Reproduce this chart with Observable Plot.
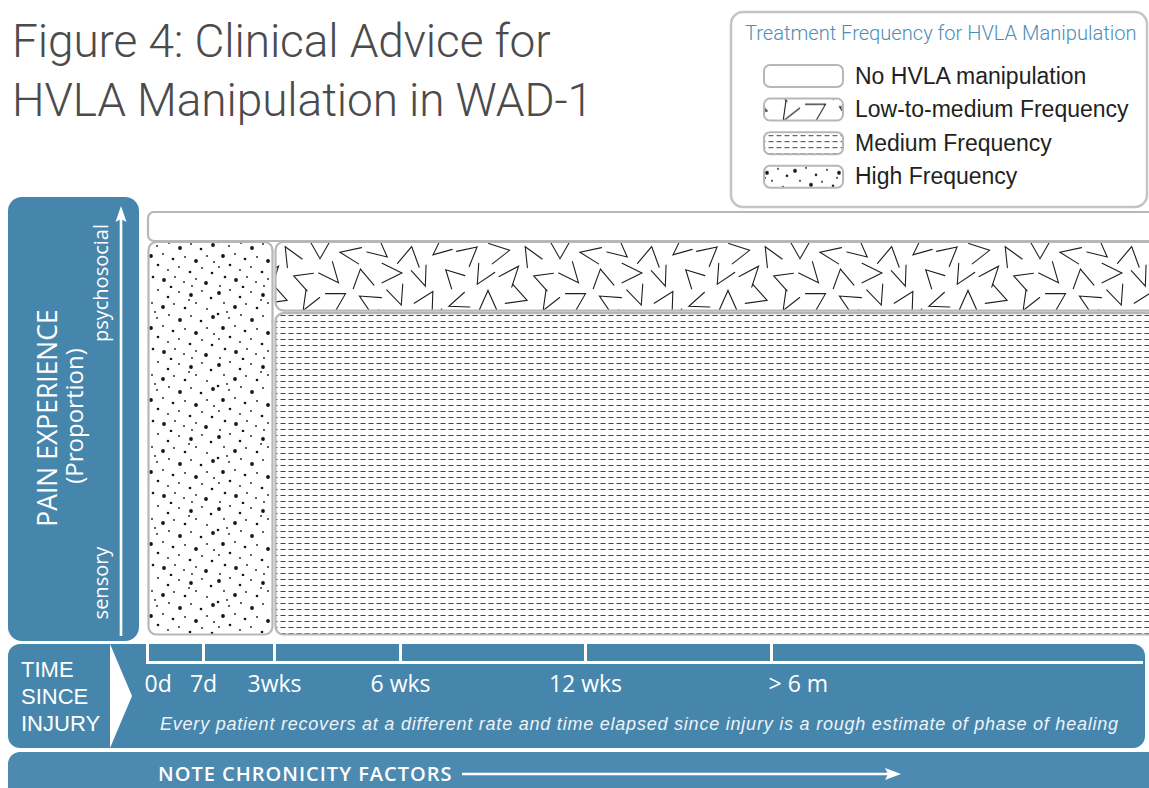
<!DOCTYPE html>
<html>
<head>
<meta charset="utf-8">
<script src="https://cdn.jsdelivr.net/npm/d3@7"></script>
<script src="https://cdn.jsdelivr.net/npm/@observablehq/plot@0.6"></script>
<style>
  html, body { margin: 0; padding: 0; background: #ffffff; }
  #page { position: relative; width: 1149px; height: 788px; overflow: hidden; background: #fff; }
  #title { position: absolute; left: 12px; top: 12px; margin: 0; font-family: Roboto, "Liberation Sans", sans-serif; font-weight: 300; font-size: 46px; line-height: 59px; color: #4b4b4d; letter-spacing: -0.1px; }
  #bg { position: absolute; left: 0; top: 0; }
  #chart { position: absolute; left: 0; top: 0; }
</style>
</head>
<body>
<div id="page">
  <div id="title">Figure 4: Clinical Advice for<br>HVLA Manipulation in WAD-1</div>
</div>
<script>
// ---------------- data ----------------
const categories = ["No HVLA manipulation", "Low-to-medium Frequency", "Medium Frequency", "High Frequency"];
const legendTitle = "Treatment Frequency for HVLA Manipulation";

// regions of the diagram: time since injury (days) × pain experience (proportion, sensory 0 → psychosocial 1)
const regionCategory = ["No HVLA manipulation", "High Frequency", "Low-to-medium Frequency", "Medium Frequency"];
const regionStartDays = [0, 0, 21, 21];
const regionEndDays   = [420, 21, 420, 420];
const regionLow       = [1, 0, 0.82, 0];
const regionHigh      = [1.076, 1, 1, 0.82];

// time axis
const axisKnotDays = [0, 7, 21, 42, 84, 182, 365];
const tickDays   = [0, 7, 21, 42, 84, 182];
const tickLabels = ["0d", "7d", "3wks", "6 wks", "12 wks", "> 6 m"];

const yAxisTitle = ["PAIN EXPERIENCE", "(Proportion)"];
const yEndLabels = ["sensory", "psychosocial"];
const timeTitle = ["TIME", "SINCE", "INJURY"];
const caption = "Every patient recovers at a different rate and time elapsed since injury is a rough estimate of phase of healing";
const footer = "NOTE CHRONICITY FACTORS";

// ---------------- styling ----------------
const W = 1149, H = 788;
const blue = "#4786ac", blue2 = "#4d8ab1";
const edge = "#b7b7bb";
const sans = "'Open Sans', 'Noto Sans', sans-serif";
const light = "Roboto, 'Liberation Sans', sans-serif";
const patternFor = {
  "No HVLA manipulation": "#ffffff",
  "Low-to-medium Frequency": "url(#pat-chev)",
  "Medium Frequency": "url(#pat-dash)",
  "High Frequency": "url(#pat-dots)"
};

const page = d3.select("#page");
const bg = page.append("svg").attr("id", "bg").attr("width", W).attr("height", H);
const defs = bg.append("defs");

// dotted texture (high frequency) – hand-placed tile
const dotTile = [[3,5,1.9],[14,2,0.9],[24,9,1.3],[35,4,0.9],[47,7,1.9],[58,3,0.9],[67,10,1.3],
  [8,15,0.9],[19,19,1.9],[30,16,0.9],[41,20,1.3],[52,15,0.9],[63,21,0.9],
  [2,26,1.3],[13,30,0.9],[25,27,0.9],[36,32,1.9],[47,28,0.9],[57,33,1.3],[69,29,1.9],
  [7,40,1.9],[19,38,0.9],[29,43,1.3],[41,41,0.9],[52,45,1.9],[63,40,0.9],
  [3,51,0.9],[14,49,1.3],[24,54,0.9],[35,51,0.9],[46,56,1.3],[58,52,0.9],[68,57,1.3],
  [9,61,1.3],[20,64,1.9],[31,61,0.9],[40,66,0.9],[52,63,0.9],[62,67,1.9],
  [4,70,0.9],[27,71,1.3],[48,70,0.9],[70,46,0.9],[45,12,0.9],[11,24,0.9]];
const DT = 72;
const pd = defs.append("pattern").attr("id", "pat-dots").attr("patternUnits", "userSpaceOnUse").attr("width", DT).attr("height", DT);
pd.append("rect").attr("width", DT).attr("height", DT).attr("fill", "#fff");
pd.selectAll("circle").data(dotTile).join("circle").attr("cx", d => d[0]).attr("cy", d => d[1]).attr("r", d => d[2]).attr("fill", "#141414");

// dashed texture (medium)
const pdash = defs.append("pattern").attr("id", "pat-dash").attr("patternUnits", "userSpaceOnUse").attr("width", 8).attr("height", 6);
pdash.append("rect").attr("width", 8).attr("height", 6).attr("fill", "#fff");
pdash.append("line").attr("x1", 0.5).attr("x2", 5.5).attr("y1", 3.5).attr("y2", 3.5).attr("stroke", "#444").attr("stroke-width", 1);

// chevron texture (low-to-medium): centre x, centre y, opening direction (deg), half-opening (deg), arm length
const chevTile = [
  [8,12,90,24,21],[38,9,200,28,22],[68,14,-60,22,21],[98,10,150,30,20],[128,13,30,26,22],[158,8,250,24,21],[188,12,120,28,22],[218,15,-20,22,21],
  [20,36,170,28,22],[50,39,60,24,21],[80,34,270,30,20],[110,38,10,22,22],[140,35,220,26,21],[170,40,100,30,22],[200,33,-40,24,20],[230,37,140,28,21],
  [2,60,300,26,21],[32,58,130,22,22],[62,63,20,28,20],[92,59,230,24,22],[122,62,80,30,21],[152,57,180,26,22],[182,61,-110,22,21],[212,60,45,28,20]];
const CW = 240, CH = 72;
const chevPath = ([cx, cy, th, ph, L]) => {
  const r = Math.PI / 180;
  const back = (L / 2) * Math.cos(ph * r);
  const ax = cx - back * Math.cos(th * r), ay = cy - back * Math.sin(th * r);
  const e1x = ax + L * Math.cos((th - ph) * r), e1y = ay + L * Math.sin((th - ph) * r);
  const e2x = ax + L * Math.cos((th + ph) * r), e2y = ay + L * Math.sin((th + ph) * r);
  return `M${e1x},${e1y}L${ax},${ay}L${e2x},${e2y}`;
};
const pc = defs.append("pattern").attr("id", "pat-chev").attr("patternUnits", "userSpaceOnUse").attr("width", CW).attr("height", CH);
pc.append("rect").attr("width", CW).attr("height", CH).attr("fill", "#fff");
for (const ox of [-CW, 0, CW]) for (const oy of [-CH, 0, CH]) {
  pc.append("g").attr("transform", `translate(${ox},${oy})`).selectAll("path").data(chevTile).join("path")
    .attr("d", chevPath).attr("fill", "none").attr("stroke", "#1e1e1e").attr("stroke-width", 1.1).attr("stroke-linecap", "round");
}

// ---- blue panels ----
bg.append("rect").attr("x", 8).attr("y", 197).attr("width", 131).attr("height", 444).attr("rx", 14).attr("fill", blue);
bg.append("rect").attr("x", 8).attr("y", 644).attr("width", 1137).attr("height", 104).attr("rx", 12).attr("fill", blue);
bg.append("path").attr("d", "M110,644L132,696L110,748Z").attr("fill", "#fff");
bg.append("rect").attr("x", 8).attr("y", 752).attr("width", 1180).attr("height", 60).attr("rx", 12).attr("fill", blue2);

// y arrow
bg.append("line").attr("x1", 121).attr("x2", 121).attr("y1", 636).attr("y2", 216).attr("stroke", "#fff").attr("stroke-width", 2.6);
bg.append("path").attr("d", "M121,206L115.5,222L121,219L126.5,222Z").attr("fill", "#fff");
// footer arrow
bg.append("line").attr("x1", 462).attr("x2", 890).attr("y1", 774).attr("y2", 774).attr("stroke", "#fff").attr("stroke-width", 2.6);
bg.append("path").attr("d", "M901,774L885,768L888,774L885,780Z").attr("fill", "#fff");

// rotated y labels
const rot = (x, y, txt, size) => bg.append("text").attr("transform", `translate(${x},${y}) rotate(-90)`)
  .attr("text-anchor", "middle").attr("fill", "#fff").attr("font-family", sans).attr("font-size", size).text(txt);
rot(57, 418, yAxisTitle[0], 26.5);
rot(83, 416, yAxisTitle[1], 24);
rot(108, 283, yEndLabels[1], 20);
rot(108, 583, yEndLabels[0], 20);

// time title (one text, three lines)
bg.append("text").attr("fill", "#fff").attr("font-family", "'Liberation Sans', Arial, sans-serif").attr("font-size", 22)
  .selectAll("tspan").data(timeTitle).join("tspan").attr("x", 21).attr("y", (d, i) => 677 + i * 27).text(d => d);
// caption
bg.append("text").attr("x", 160).attr("y", 730).attr("fill", "#eef3f7").attr("font-family", "'Liberation Sans', Arial, sans-serif")
  .attr("font-style", "italic").attr("font-size", 18).attr("letter-spacing", 0.78).text(caption);
// footer
bg.append("text").attr("x", 158).attr("y", 781).attr("fill", "#fff").attr("font-family", sans).attr("font-weight", 600)
  .attr("font-size", 20).attr("letter-spacing", 1).text(footer);

// ---- legend ----
const lg = bg.append("g");
lg.append("rect").attr("x", 731).attr("y", 12).attr("width", 416).attr("height", 195).attr("rx", 12).attr("fill", "#fff").attr("stroke", "#c4c4c8").attr("stroke-width", 2.5);
lg.append("text").attr("x", 745).attr("y", 40).attr("fill", "#4e8db6").attr("font-family", light).attr("font-weight", 300).attr("font-size", 20.1).text(legendTitle);
const li = lg.selectAll("g.item").data(categories).join("g").attr("class", "item")
  .attr("transform", (d, i) => `translate(0,${65 + i * 33.6})`);
li.append("rect").attr("x", 764).attr("y", 0).attr("width", 79).attr("height", 22).attr("rx", 6)
  .attr("fill", d => patternFor[d]).attr("stroke", edge).attr("stroke-width", 2);
li.append("text").attr("x", 855).attr("y", 18.5).attr("fill", "#231f20").attr("font-family", "'Liberation Sans', Arial, sans-serif").attr("font-size", 23).text(d => d);

// ---------------- Plot ----------------
const regions = regionCategory.map((c, i) => ({category: c, x1: regionStartDays[i], x2: regionEndDays[i], y1: regionLow[i], y2: regionHigh[i]}));

const chart = Plot.plot({
  width: W, height: H,
  marginLeft: 147, marginRight: 8, marginTop: 150, marginBottom: 145,
  style: {background: "none", overflow: "hidden"},
  x: {type: "linear", domain: axisKnotDays, range: [147, 203, 274, 400, 585, 771, 1141], label: null},
  y: {domain: [0, 1], range: [636, 241], axis: null},
  color: {type: "ordinal", domain: categories, range: categories.map(c => patternFor[c])},
  marks: [
    Plot.rect(regions.filter(d => d.category === categories[0]), {x1: "x1", x2: "x2", y1: "y1", y2: "y2", fill: "category", stroke: edge, strokeWidth: 2.2, rx: 6, insetLeft: 1, insetTop: 1}),
    Plot.rect(regions.filter(d => d.category !== categories[0]), {x1: "x1", x2: "x2", y1: "y1", y2: "y2", fill: "category", stroke: edge, strokeWidth: 2.2, rx: 8, insetLeft: 1.5, insetRight: 1.5, insetTop: 1, insetBottom: 1.5}),
    Plot.axisX({ticks: tickDays, tickSize: 19, tickFormat: () => "", stroke: "#fff", strokeWidth: 3, label: null}),
    Plot.frame({anchor: "bottom", stroke: "#fff", strokeWidth: 3, dy: 19}),
    Plot.text(tickDays.filter((d, i) => i > 0 && i < tickDays.length - 1), {x: d => d, text: d => tickLabels[tickDays.indexOf(d)], frameAnchor: "bottom", dy: 41, lineAnchor: "middle", textAnchor: "middle", fill: "#fff", fontSize: 23, fontFamily: sans}),
    Plot.text(tickDays.filter((d, i) => i === 0 || i === tickDays.length - 1), {x: d => d, text: d => tickLabels[tickDays.indexOf(d)], frameAnchor: "bottom", dy: 41, dx: -3, lineAnchor: "middle", textAnchor: "start", fill: "#fff", fontSize: 23, fontFamily: sans})
  ]
});
chart.setAttribute("id", "chart");
document.getElementById("page").appendChild(chart);
</script>
</body>
</html>
